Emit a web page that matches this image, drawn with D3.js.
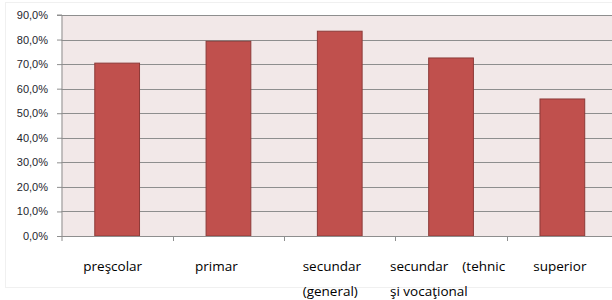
<!DOCTYPE html>
<html>
<head>
<meta charset="utf-8">
<script src="https://cdn.jsdelivr.net/npm/d3@7"></script>
<style>
html,body{margin:0;padding:0;background:#fff;}
svg{display:block;}
text{white-space:pre;}
</style>
</head>
<body>
<svg id="chart" width="612" height="300"></svg>
<script>
// ---- data ----
const categories = ["preşcolar", "primar", "secundar (general)", "secundar (tehnic şi vocaţional", "superior"];
const categoryLines = [["preşcolar"], ["primar"], ["secundar", "(general)"], ["secundar    (tehnic", "şi vocaţional"], ["superior"]];
const values = [0.704, 0.793, 0.834, 0.725, 0.558];
const yTicks = [0, 0.1, 0.2, 0.3, 0.4, 0.5, 0.6, 0.7, 0.8, 0.9];

// ---- layout ----
const plot = {left: 61.5, right: 618, top: 15, bottom: 236};
const labelDx = [21.8, 22.2, 18.6, -5.4, 26.6]; // left offset of label from band start
const svg = d3.select("#chart");

// faint chart border
svg.append("rect").attr("x", 5.5).attr("y", 2.5).attr("width", 620).attr("height", 285)
  .attr("fill", "none").attr("stroke", "#f0f0f0").attr("stroke-width", 1);

const x = d3.scaleBand().domain(categories).range([plot.left, plot.right])
  .paddingInner(0.598).paddingOuter(0.299);
const y = d3.scaleLinear().domain([0, 0.9]).range([plot.bottom, plot.top]);

// plot background
svg.append("rect").attr("x", plot.left).attr("y", plot.top)
  .attr("width", plot.right - plot.left).attr("height", plot.bottom - plot.top)
  .attr("fill", "#f2e8e8");

// gridlines
svg.append("g").selectAll("line").data(yTicks.slice(1)).join("line")
  .attr("x1", plot.left).attr("x2", plot.right)
  .attr("y1", d => Math.round(y(d)) + 0.5).attr("y2", d => Math.round(y(d)) + 0.5)
  .attr("stroke", "#8e8e8e").attr("stroke-width", 1.2);

// bars
svg.append("g").selectAll("rect").data(values).join("rect")
  .attr("x", (d, i) => x(categories[i]))
  .attr("y", d => y(d))
  .attr("width", x.bandwidth())
  .attr("height", d => plot.bottom - y(d))
  .attr("fill", "#c0504d")
  .attr("stroke", "#8c3a38").attr("stroke-width", 1);

// y axis
const yAxis = d3.axisLeft(y).tickValues(yTicks).tickSize(5).tickPadding(9)
  .tickFormat(d => d3.format(".1f")(d * 100).replace(".", ",") + "%");
const gy = svg.append("g").attr("transform", `translate(${plot.left + 0.5},0)`).call(yAxis);
gy.select(".domain").attr("stroke", "#8e8e8e").attr("d", `M-5,${plot.top}H0V${plot.bottom + 5}`);
gy.selectAll(".tick line").attr("stroke", "#8e8e8e");
gy.selectAll(".tick text").attr("font-family", "Liberation Sans, Arial, sans-serif")
  .attr("font-size", 11).attr("fill", "#1e1e2e");

// x axis line and ticks at category boundaries
svg.append("line").attr("x1", plot.left).attr("x2", plot.right)
  .attr("y1", plot.bottom + 0.5).attr("y2", plot.bottom + 0.5)
  .attr("stroke", "#8e8e8e").attr("stroke-width", 1.2);
const bounds = categories.slice(1).map(c => x(c) - x.step() * x.paddingInner() / 2);
svg.append("g").selectAll("line").data(bounds).join("line")
  .attr("x1", d => Math.round(d) + 0.5).attr("x2", d => Math.round(d) + 0.5)
  .attr("y1", plot.bottom).attr("y2", plot.bottom + 5)
  .attr("stroke", "#8e8e8e");

// x labels
const bandStart = c => x(c) - x.step() * x.paddingInner() / 2;
const lab = svg.append("g").selectAll("text").data(categories).join("text")
  .attr("x", (c, i) => bandStart(c) + labelDx[i])
  .attr("y", 270.5)
  .attr("font-family", "Open Sans, sans-serif").attr("font-size", 13.5).attr("fill", "#000");
lab.each(function(c, i) {
  const t = d3.select(this);
  categoryLines[i].forEach((line, j) => {
    t.append("tspan").attr("x", bandStart(c) + labelDx[i]).attr("dy", j === 0 ? 0 : 25).text(line);
  });
});
</script>
</body>
</html>
